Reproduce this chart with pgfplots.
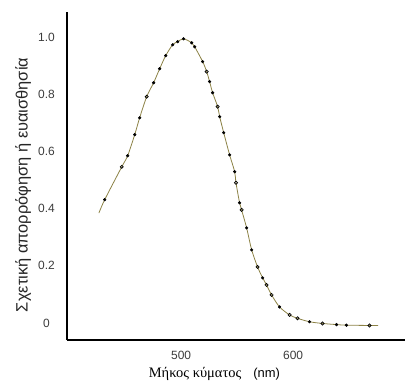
\documentclass[border=0pt]{standalone}
\usepackage{pgfplots}
\pgfplotsset{compat=1.18}
\usepackage{fontspec}
\setmainfont{Liberation Sans}
\newfontfamily\serifgr{Liberation Serif}
\definecolor{olivel}{RGB}{140,130,70}
\definecolor{tickgray}{RGB}{60,60,60}
\begin{document}
\begin{tikzpicture}[x=1bp,y=1bp]
\begin{axis}[
  name=ax,
  at={(0,0)}, anchor=south west,
  scale only axis,
  width=338bp, height=328bp,
  xmin=398, xmax=700,
  ymin=-0.06, ymax=1.09,
  axis lines=left,
  axis line style={-, line width=2.2bp, black},
  xtick={500,600},
  ytick={0,0.2,0.4,0.6,0.8,1.0},
  yticklabels={0,0.2,0.4,0.6,0.8,1.0},
  major tick length=0pt,
  /pgf/number format/assume math mode=true,
  ticklabel style={font=\fontsize{12}{14}\selectfont, text=tickgray},
  yticklabel style={anchor=center, xshift=-20.5bp},
  xticklabel style={anchor=center, yshift=-15bp},
  xlabel={{\serifgr\fontsize{14.5}{16}\selectfont Μήκος κύματος}\hspace{12bp}{\fontsize{13}{15}\selectfont (nm)}},
  xlabel style={at={(axis description cs:0.436,-0.103)}, anchor=center},
  ylabel={Σχετική απορρόφηση ή ευαισθησία},
  ylabel style={at={(axis description cs:-0.13,0.473)}, anchor=center, rotate=0, font=\fontsize{16.5}{18}\selectfont, text=black!85},
  clip=false,
]
\addplot[olivel, line width=0.8bp, smooth, tension=0.5] coordinates {
(426.5,0.385) (431.7,0.432) (446.9,0.547) (452.2,0.586) (458.5,0.66) (462.9,0.719)
(469.2,0.793) (475.4,0.842) (480.8,0.891) (486.2,0.937) (492.4,0.975) (496.9,0.986)
(502.2,0.996) (509.4,0.982) (512.1,0.968) (519.2,0.916) (522.8,0.881) (525.4,0.846)
(528.1,0.807) (532.6,0.758) (534.4,0.723) (538.0,0.667) (543.3,0.589) (547.8,0.53)
(549.0,0.491) (552.2,0.421) (554.0,0.396) (558.5,0.333) (563.0,0.256) (568.3,0.196)
(572.8,0.158) (576.3,0.133) (580.8,0.098) (587.9,0.056) (596.9,0.028) (604.0,0.016)
(614.7,0.004) (626.3,-0.002) (638.8,-0.006) (647.7,-0.008) (668.3,-0.009) (676,-0.009)
};
\addplot[only marks, mark=*, mark size=1.4bp, black] coordinates {
(431.7,0.432) (452.2,0.586) (458.5,0.66) (462.9,0.719) (475.4,0.842) (480.8,0.891)
(486.2,0.937) (492.4,0.975) (496.9,0.986) (502.2,0.996) (509.4,0.982) (512.1,0.968)
(519.2,0.916) (525.4,0.846) (528.1,0.807) (534.4,0.723) (538.0,0.667) (543.3,0.589)
(547.8,0.53) (552.2,0.421) (558.5,0.333) (563.0,0.256) (572.8,0.158) (587.9,0.056)
(614.7,0.004) (638.8,-0.006) (647.7,-0.008)
};
\addplot[only marks, mark=o, mark size=1.6bp, black, mark options={line width=0.7bp}] coordinates {
(446.9,0.547) (469.2,0.793) (522.8,0.881) (532.6,0.758) (549.0,0.491) (554.0,0.396)
(568.3,0.196) (576.3,0.133) (580.8,0.098) (596.9,0.028) (604.0,0.016) (626.3,-0.002)
(668.3,-0.009)
};
\end{axis}
\pgfresetboundingbox
\path[use as bounding box] (-67,-42) rectangle (343,340);
\end{tikzpicture}
\end{document}
